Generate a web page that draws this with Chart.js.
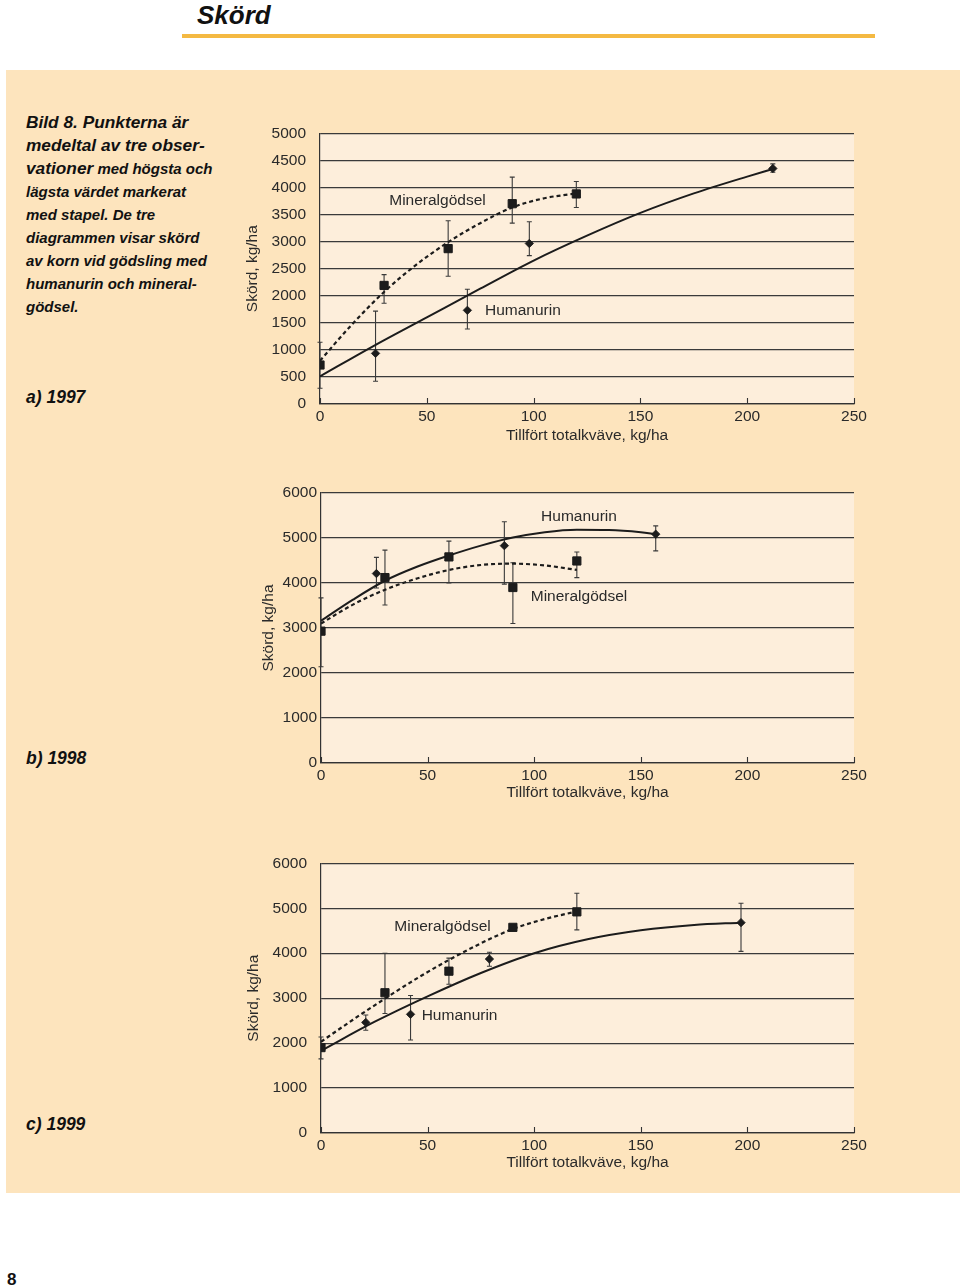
<!DOCTYPE html>
<html lang="sv">
<head>
<meta charset="utf-8">
<title>Skörd</title>
<script src="https://cdn.jsdelivr.net/npm/chart.js@4.4.0/dist/chart.umd.min.js"></script>
<style>
  html, body { margin: 0; padding: 0; background: #fff; }
  body { width: 960px; height: 1287px; position: relative; overflow: hidden;
         font-family: 'Liberation Sans', Arial, sans-serif; color: #111; }
  .title { position: absolute; left: 197px; top: 0; font-size: 26px; line-height: 30px;
           font-weight: bold; font-style: italic; }
  .rule { position: absolute; left: 182px; top: 34px; width: 693px; height: 4px; background: #f4b942; }
  .panel { position: absolute; left: 6px; top: 70px; width: 960px; height: 1123px; background: #fde4bd; }
  .caption { position: absolute; left: 26px; top: 111px; font-weight: bold; font-style: italic;
             font-size: 15px; line-height: 23px; white-space: nowrap; }
  .big { font-size: 17.3px; }
  .year { position: absolute; left: 26px; font-weight: bold; font-style: italic;
          font-size: 17.5px; line-height: 20px; }
  .pageno { position: absolute; left: 7px; top: 1270px; font-size: 17px; line-height: 20px; font-weight: bold; }
  canvas { position: absolute; }
</style>
</head>
<body>
<div class="title">Skörd</div>
<div class="rule"></div>
<div class="panel"></div>

<div class="caption">
  <span class="big">Bild 8. Punkterna är</span><br>
  <span class="big">medeltal av tre obser-</span><br>
  <span class="big">vationer</span> med högsta och<br>
  lägsta värdet markerat<br>
  med stapel. De tre<br>
  diagrammen visar skörd<br>
  av korn vid gödsling med<br>
  humanurin och mineral-<br>
  gödsel.
</div>

<div class="year" style="top:387px">a) 1997</div>
<div class="year" style="top:748px">b) 1998</div>
<div class="year" style="top:1114px">c) 1999</div>

<canvas id="c97" width="650" height="335" style="left:230px; top:110px"></canvas>
<canvas id="c98" width="650" height="332" style="left:230px; top:470px"></canvas>
<canvas id="c99" width="650" height="332" style="left:230px; top:840px"></canvas>

<div class="pageno">8</div>

<script>
// tick labels
const xTicks = [0, 50, 100, 150, 200, 250];
const yTicks97 = [0, 500, 1000, 1500, 2000, 2500, 3000, 3500, 4000, 4500, 5000];
const yTicks98 = [0, 1000, 2000, 3000, 4000, 5000, 6000];
const yTicks99 = [0, 1000, 2000, 3000, 4000, 5000, 6000];

// a) 1997 - mineralgödsel (squares) and humanurin (diamonds), lo/hi = lowest/highest value
const min97X = [0, 30, 60, 90, 120];
const min97Y = [720, 2190, 2870, 3700, 3880];
const min97Lo = [290, 1860, 2360, 3340, 3630];
const min97Hi = [1140, 2390, 3385, 4190, 4110];
const hum97X = [26, 69, 98, 212];
const hum97Y = [935, 1730, 2965, 4350];
const hum97Lo = [420, 1385, 2740, 4280];
const hum97Hi = [1715, 2120, 3365, 4435];
const min97CurveX = [0, 15, 30, 45, 60, 75, 90, 105, 120];
const min97CurveY = [800, 1470, 2070, 2570, 2990, 3340, 3630, 3800, 3890];
const hum97CurveX = [0, 25, 50, 75, 100, 125, 150, 175, 200, 212];
const hum97CurveY = [510, 1070, 1600, 2130, 2650, 3110, 3530, 3890, 4200, 4340];

// b) 1998
const min98X = [0, 30, 60, 90, 120];
const min98Y = [2930, 4120, 4580, 3900, 4490];
const min98Lo = [2140, 3510, 4000, 3100, 4120];
const min98Hi = [3670, 4730, 4930, 4450, 4690];
const hum98X = [26, 86, 157];
const hum98Y = [4210, 4830, 5085];
const hum98Lo = [3890, 3975, 4715];
const hum98Hi = [4570, 5360, 5270];
const min98CurveX = [0, 15, 30, 45, 60, 75, 90, 105, 120];
const min98CurveY = [3100, 3520, 3850, 4100, 4290, 4400, 4430, 4390, 4290];
const hum98CurveX = [0, 15, 30, 45, 60, 75, 90, 105, 120, 135, 150, 157];
const hum98CurveY = [3160, 3630, 4050, 4360, 4610, 4830, 5010, 5130, 5185, 5180, 5130, 5085];

// c) 1999
const min99X = [0, 30, 60, 90, 120];
const min99Y = [1900, 3120, 3600, 4575, 4920];
const min99Lo = [1650, 2660, 3310, null, 4520];
const min99Hi = [2135, 4000, 3890, null, 5335];
const hum99X = [21, 42, 79, 197];
const hum99Y = [2460, 2640, 3870, 4680];
const hum99Lo = [2285, 2070, 3710, 4040];
const hum99Hi = [2625, 3060, 4020, 5110];
const min99CurveX = [0, 15, 30, 45, 60, 75, 90, 105, 120];
const min99CurveY = [2030, 2520, 2990, 3440, 3850, 4220, 4540, 4760, 4930];
const hum99CurveX = [0, 25, 50, 75, 100, 125, 150, 175, 197];
const hum99CurveY = [1830, 2470, 3040, 3560, 4000, 4310, 4510, 4630, 4680];

// where the curve names are written (in data units)
const notes97 = [['Mineralgödsel', 55, 3760], ['Humanurin', 95, 1720]];
const notes98 = [['Humanurin', 121, 5470], ['Mineralgödsel', 121, 3700]];
const notes99 = [['Mineralgödsel', 57, 4600], ['Humanurin', 65, 2620]];

const ink = '#1c1c1c';
const textCol = '#2a2a2a';
const fontFam = "'Liberation Sans', Arial, sans-serif";

Chart.defaults.font.family = fontFam;
Chart.defaults.font.size = 15.5;
Chart.defaults.color = textCol;

function pts(xs, ys) {
    return xs.map((x, i) => ({ x: x, y: ys[i] }));
}

// light background inside the plot area
const plotBg = {
    id: 'plotBg',
    beforeDraw(chart) {
        const { ctx, chartArea: a } = chart;
        ctx.save();
        ctx.fillStyle = '#fdeedb';
        ctx.fillRect(a.left, a.top, a.right - a.left, a.bottom - a.top);
        ctx.restore();
    }
};

// error bars + small inward ticks on x axis
const errorBars = {
    id: 'errorBars',
    beforeDatasetsDraw(chart, args, opts) {
        const { ctx, scales: { x, y } } = chart;
        ctx.save();
        ctx.strokeStyle = '#333';
        ctx.lineWidth = 1.1;
        ctx.beginPath();
        xTicks.forEach(v => {
            const px = Math.round(x.getPixelForValue(v)) + 0.5;
            ctx.moveTo(px, y.bottom);
            ctx.lineTo(px, y.bottom - 6);
        });
        ctx.stroke();

        ctx.strokeStyle = '#3a3a3a';
        opts.bars.forEach(b => {
            b.x.forEach((xv, i) => {
                if (b.lo[i] == null) return;
                const px = x.getPixelForValue(xv);
                const top = y.getPixelForValue(b.hi[i]);
                const bot = y.getPixelForValue(b.lo[i]);
                ctx.beginPath();
                ctx.moveTo(px, top); ctx.lineTo(px, bot);
                ctx.moveTo(px - 2.5, top); ctx.lineTo(px + 2.5, top);
                ctx.moveTo(px - 2.5, bot); ctx.lineTo(px + 2.5, bot);
                ctx.stroke();
            });
        });
        ctx.restore();
    }
};

// curve names
const curveNotes = {
    id: 'curveNotes',
    afterDraw(chart, args, opts) {
        const { ctx, scales: { x, y } } = chart;
        ctx.save();
        ctx.font = '15.5px ' + fontFam;
        ctx.fillStyle = textCol;
        ctx.textAlign = 'center';
        ctx.textBaseline = 'middle';
        opts.notes.forEach(n => {
            ctx.fillText(n[0], x.getPixelForValue(n[1]), y.getPixelForValue(n[2]));
        });
        ctx.restore();
    }
};

function makeChart(id, d) {
    const ctx = document.getElementById(id).getContext('2d');
    return new Chart(ctx, {
        type: 'scatter',
        data: {
            datasets: [
                {
                    data: pts(d.minX, d.minY), pointStyle: 'rect', pointRadius: 5.8,
                    backgroundColor: ink, borderColor: ink, borderWidth: 1
                },
                {
                    data: pts(d.humX, d.humY), pointStyle: 'rectRot', pointRadius: 4.2,
                    backgroundColor: ink, borderColor: ink, borderWidth: 0.8
                },
                {
                    data: pts(d.minCX, d.minCY), showLine: true, pointRadius: 0,
                    borderColor: ink, borderWidth: 2.2, borderDash: [4, 3],
                    cubicInterpolationMode: 'monotone'
                },
                {
                    data: pts(d.humCX, d.humCY), showLine: true, pointRadius: 0,
                    borderColor: ink, borderWidth: 2, cubicInterpolationMode: 'monotone'
                }
            ]
        },
        options: {
            responsive: false,
            animation: false,
            devicePixelRatio: 1,
            events: [],
            layout: { padding: { top: d.padTop, right: 26, left: 0, bottom: 0 } },
            plugins: {
                legend: { display: false },
                tooltip: { enabled: false },
                errorBars: {
                    bars: [
                        { x: d.minX, lo: d.minLo, hi: d.minHi },
                        { x: d.humX, lo: d.humLo, hi: d.humHi }
                    ]
                },
                curveNotes: { notes: d.notes }
            },
            scales: {
                x: {
                    type: 'linear', min: 0, max: 250,
                    afterBuildTicks: s => { s.ticks = xTicks.map(v => ({ value: v })); },
                    grid: { display: false, drawTicks: false },
                    border: { display: true, color: '#333', width: 1.2 },
                    ticks: { padding: 3, maxRotation: 0, color: textCol, callback: v => String(v) },
                    title: { display: true, text: 'Tillfört totalkväve, kg/ha', color: textCol,
                             padding: { top: 0, bottom: 0 } },
                    afterFit: s => { s.height = d.xHeight; }
                },
                y: {
                    type: 'linear', min: 0, max: d.yMax,
                    afterBuildTicks: s => { s.ticks = d.yTicks.map(v => ({ value: v })); },
                    grid: { color: '#3a3a3a', lineWidth: 1.2, drawTicks: false },
                    border: { display: true, color: '#333', width: 1.2 },
                    ticks: { padding: d.yPad, color: textCol, callback: v => String(v) },
                    title: { display: true, text: 'Skörd, kg/ha', color: textCol,
                             padding: { top: d.titlePad, bottom: 0 } },
                    afterFit: s => { s.width = d.yWidth; }
                }
            }
        },
        plugins: [plotBg, errorBars, curveNotes]
    });
}

makeChart('c97', {
    minX: min97X, minY: min97Y, minLo: min97Lo, minHi: min97Hi,
    humX: hum97X, humY: hum97Y, humLo: hum97Lo, humHi: hum97Hi,
    minCX: min97CurveX, minCY: min97CurveY, humCX: hum97CurveX, humCY: hum97CurveY,
    notes: notes97, yTicks: yTicks97, yMax: 5000,
    padTop: 17, xHeight: 41, yWidth: 90, yPad: 14, titlePad: 13
});

makeChart('c98', {
    minX: min98X, minY: min98Y, minLo: min98Lo, minHi: min98Hi,
    humX: hum98X, humY: hum98Y, humLo: hum98Lo, humHi: hum98Hi,
    minCX: min98CurveX, minCY: min98CurveY, humCX: hum98CurveX, humCY: hum98CurveY,
    notes: notes98, yTicks: yTicks98, yMax: 6000,
    padTop: 23, xHeight: 39, yWidth: 91, yPad: 4, titlePad: 29
});

makeChart('c99', {
    minX: min99X, minY: min99Y, minLo: min99Lo, minHi: min99Hi,
    humX: hum99X, humY: hum99Y, humLo: hum99Lo, humHi: hum99Hi,
    minCX: min99CurveX, minCY: min99CurveY, humCX: hum99CurveX, humCY: hum99CurveY,
    notes: notes99, yTicks: yTicks99, yMax: 6000,
    padTop: 16, xHeight: 39, yWidth: 91, yPad: 14, titlePad: 14
});
</script>
</body>
</html>
